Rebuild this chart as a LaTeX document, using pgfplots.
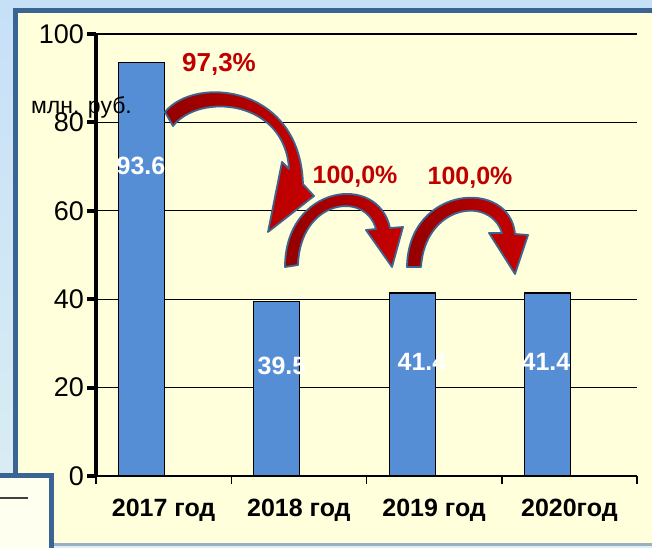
\documentclass[border=0pt]{standalone}
\usepackage{pgfplots}
\pgfplotsset{compat=1.18}
\usepackage{fontspec}
\setmainfont{Liberation Sans}
\definecolor{bgtop}{HTML}{C6E0F8}
\definecolor{bgbot}{HTML}{DCEEF2}
\definecolor{framec}{HTML}{3A6494}
\definecolor{plotbg}{HTML}{FFFFDC}
\definecolor{boxbg}{HTML}{FFFFF0}
\definecolor{barblue}{HTML}{558ED5}
\definecolor{pctred}{HTML}{C00000}
\definecolor{arrdark}{HTML}{940000}
\definecolor{arrred}{HTML}{C80000}
\definecolor{arredge}{HTML}{3E6590}
\definecolor{sepline}{HTML}{9AB0C0}
\newcommand{\fs}[1]{\fontsize{#1bp}{#1bp}\selectfont}
\begin{document}
\begin{tikzpicture}
\useasboundingbox (0,0) rectangle (652bp,548bp);
\shade[top color=bgtop,bottom color=bgbot] (0,0) rectangle (652bp,548bp);
\begin{scope}[x=1bp,y=-1bp,shift={(0,-548)}]
 \fill[framec] (13,8) rectangle (700,543);
 \fill[plotbg] (18,13) rectangle (700,543);
 \fill[sepline] (0,543) rectangle (652,545.5);
\end{scope}
\begin{axis}[
  at={(96bp,72bp)}, anchor=south west,
  scale only axis, width=541bp, height=442bp,
  xmin=-0.5, xmax=3.5, ymin=0, ymax=100,
  axis x line=bottom, axis y line=left,
  x axis line style={-, line width=1.2bp},
  y axis line style={-, line width=4bp},
  ytick={0,20,...,100},
  ymajorgrids, grid style={black, line width=1.1bp},
  xtick={-0.5,0.5,1.5,2.5,3.5}, xticklabels={},
  extra x ticks={0,1,2,3},
  extra x tick labels={2017 год,2018 год,2019 год,2020год},
  extra x tick style={major tick length=0pt},
  tick align=outside, major tick length=8.5bp,
  xtick style={line width=1.5bp, black},
  ytick style={line width=4bp, black},
  /pgf/number format/assume math mode=true,
  yticklabel style={font=\fs{27}},
  xticklabel style={font=\bfseries\fs{25}, yshift=-20bp},
  ybar, bar width=46bp, bar shift=-22bp,
]
\addplot[fill=barblue, draw=black, line width=1.2bp] coordinates {(0,93.6) (1,39.5) (2,41.4) (3,41.4)};
\end{axis}
\begin{scope}[x=1bp,y=-1bp,shift={(0,-548)}]
 % arrows
 \shade[left color=arrdark, middle color=arrred, right color=arrred, draw=arredge, line width=1.8bp, line join=round]
   (173,126) -- (165,112) .. controls (195,75) and (300,85) .. (303,184) -- (314,196) -- (268,232) -- (282,162) -- (289,169) .. controls (285,100) and (200,92) .. (173,126) -- cycle;
 \shade[left color=arrdark, middle color=arrred, right color=arrred, draw=arredge, line width=1.8bp, line join=round]
   (298,265) -- (285,267) .. controls (285,185) and (378,172) .. (390,228) -- (403,227) -- (392,267) -- (366,230) -- (376,229) .. controls (365,190) and (300,200) .. (298,265) -- cycle;
 \shade[left color=arrdark, middle color=arrred, right color=arrred, draw=arredge, line width=1.8bp, line join=round]
   (421,267) -- (407,267) .. controls (408,185) and (510,178) .. (515,234) -- (528,235) -- (515,274) -- (489,233) -- (502,233) .. controls (490,195) and (425,205) .. (421,267) -- cycle;
 % percentages
 \node[text=pctred, font=\bfseries\fs{26}] at (219,64) {97,3\%};
 \node[text=pctred, font=\bfseries\fs{25}] at (355,177) {100,0\%};
 \node[text=pctred, font=\bfseries\fs{25}] at (470,178) {100,0\%};
 % data labels
 \node[text=white, font=\bfseries\fs{25}] at (141,166) {93.6};
 \node[text=white, font=\bfseries\fs{25}] at (282,366) {39.5};
 \node[text=white, font=\bfseries\fs{25}] at (422,362) {41.4};
 \node[text=white, font=\bfseries\fs{25}] at (546,362) {41.4};
 % unit
 \node[font=\fs{23}] at (81.5,107) {млн. руб.};
 % bottom-left box
 \fill[framec] (-10,473) rectangle (54,560);
 \fill[boxbg] (-10,478) rectangle (49,560);
 \draw[black!75, line width=1.2bp] (0,498) -- (28,498);
\end{scope}
\end{tikzpicture}
\end{document}
